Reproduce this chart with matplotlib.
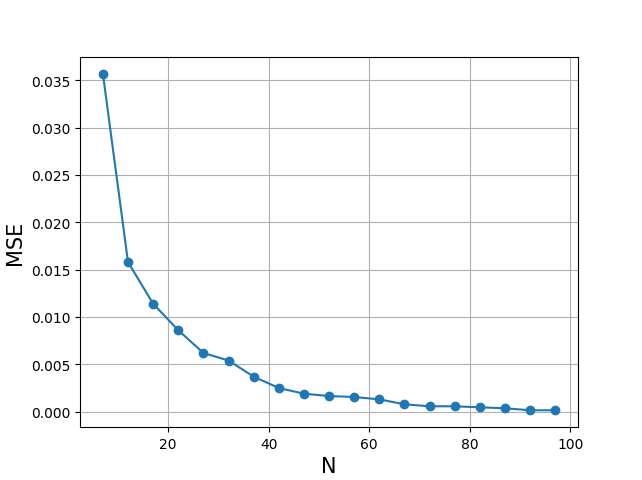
import matplotlib
matplotlib.use("Agg")
import matplotlib.pyplot as plt

N = [7, 12, 17, 22, 27, 32, 37, 42, 47, 52, 57, 62, 67, 72, 77, 82, 87, 92, 97]
mse = [0.0357, 0.0158, 0.0114, 0.0086, 0.0062, 0.0054, 0.0037, 0.0025, 0.0019,
       0.00165, 0.00155, 0.0013, 0.00078, 0.00057, 0.00057, 0.00046, 0.00036,
       0.00015, 0.00015]

fig, ax = plt.subplots(figsize=(6.42, 4.81), dpi=100)
ax.plot(N, mse, marker='o', color='#1f77b4')
ax.set_xlabel('N', fontsize=15)
ax.set_ylabel('MSE', fontsize=15)
ax.grid(True)
fig.savefig('out.png')
